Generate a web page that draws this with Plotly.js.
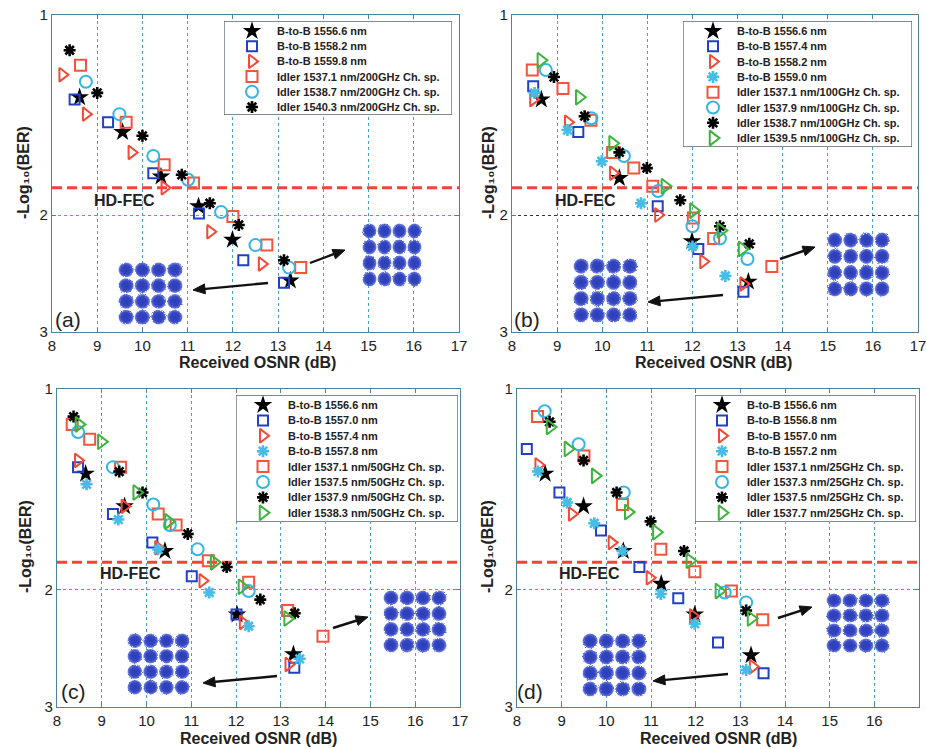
<!DOCTYPE html>
<html>
<head>
<meta charset="utf-8">
<script src="https://cdn.plot.ly/plotly-3.0.1.min.js"></script>
<style>
  html, body { margin: 0; padding: 0; background: #fff; }
  #chart { width: 927px; height: 749px; }
</style>
</head>
<body>
<div id="chart"></div>
<script>
// ---------------- measured BER curves: -log10(BER) vs received OSNR (dB) ----------------
const xTicks = [8, 9, 10, 11, 12, 13, 14, 15, 16, 17];
const yTicks = [1, 2, 3];
const hdFecLevel = 1.82;

// (a) 200 GHz channel spacing
const aNames = ['B-to-B 1556.6 nm', 'B-to-B 1558.2 nm', 'B-to-B 1559.8 nm',
  'Idler 1537.1 nm/200GHz Ch. sp.', 'Idler 1538.7 nm/200GHz Ch. sp.', 'Idler 1540.3 nm/200GHz Ch. sp.'];
const aStarX = [8.61, 9.56, 10.41, 11.24, 11.99, 13.27];
const aStarY = [1.33, 1.50, 1.75, 1.94, 2.18, 2.51];
const aBlueSqX = [8.50, 9.24, 10.24, 11.25, 12.23, 13.13];
const aBlueSqY = [1.34, 1.45, 1.73, 1.99, 2.34, 2.53];
const aRedTriX = [8.23, 8.75, 9.76, 10.49, 11.50, 12.64];
const aRedTriY = [1.23, 1.41, 1.61, 1.82, 2.12, 2.37];
const aRedSqX = [8.63, 9.64, 10.48, 11.13, 12.00, 12.75, 13.50];
const aRedSqY = [1.19, 1.45, 1.68, 1.79, 2.01, 2.22, 2.40];
const aCircX = [8.75, 9.49, 10.24, 11.01, 11.74, 12.50, 13.24];
const aCircY = [1.26, 1.41, 1.63, 1.77, 1.98, 2.22, 2.40];
const aAstX = [8.39, 9.00, 10.00, 10.87, 11.49, 12.13, 13.13];
const aAstY = [1.13, 1.31, 1.52, 1.74, 1.92, 2.07, 2.34];

// (b) 100 GHz channel spacing
const bNames = ['B-to-B 1556.6 nm', 'B-to-B 1557.4 nm', 'B-to-B 1558.2 nm', 'B-to-B 1559.0 nm',
  'Idler 1537.1 nm/100GHz Ch. sp.', 'Idler 1537.9 nm/100GHz Ch. sp.',
  'Idler 1538.7 nm/100GHz Ch. sp.', 'Idler 1539.5 nm/100GHz Ch. sp.'];
const bStarX = [8.65, 10.38, 11.99, 13.24];
const bStarY = [1.34, 1.76, 2.19, 2.52];
const bBlueSqX = [8.47, 9.47, 11.23, 12.13, 13.13];
const bBlueSqY = [1.28, 1.50, 1.94, 2.25, 2.61];
const bRedTriX = [8.47, 9.24, 10.24, 11.24, 12.24, 13.13];
const bRedTriY = [1.34, 1.45, 1.73, 2.00, 2.35, 2.54];
const bCyanAstX = [8.50, 9.23, 9.99, 10.86, 12.00, 12.73];
const bCyanAstY = [1.31, 1.49, 1.66, 1.92, 2.23, 2.47];
const bRedSqX = [8.45, 9.13, 9.75, 10.23, 10.70, 11.12, 12.02, 12.47, 13.76];
const bRedSqY = [1.21, 1.29, 1.44, 1.61, 1.70, 1.81, 2.02, 2.17, 2.39];
const bCircX = [8.75, 9.76, 10.48, 11.24, 12.00, 12.61, 13.22];
const bCircY = [1.21, 1.43, 1.63, 1.84, 2.08, 2.17, 2.33];
const bAstX = [8.93, 9.61, 10.38, 10.99, 11.73, 12.61, 13.26];
const bAstY = [1.24, 1.42, 1.61, 1.70, 1.90, 2.08, 2.21];
const bGreenTriX = [8.64, 9.49, 10.23, 11.39, 12.02, 12.63, 13.10];
const bGreenTriY = [1.17, 1.33, 1.56, 1.81, 1.97, 2.11, 2.25];

// (c) 50 GHz channel spacing
const cNames = ['B-to-B 1556.6 nm', 'B-to-B 1557.0 nm', 'B-to-B 1557.4 nm', 'B-to-B 1557.8 nm',
  'Idler 1537.1 nm/50GHz Ch. sp.', 'Idler 1537.5 nm/50GHz Ch. sp.',
  'Idler 1537.9 nm/50GHz Ch. sp.', 'Idler 1538.3 nm/50GHz Ch. sp.'];
const cStarX = [8.64, 9.51, 10.41, 12.02, 13.28];
const cStarY = [1.34, 1.50, 1.75, 2.18, 2.50];
const cBlueSqX = [8.47, 9.25, 10.13, 11.01, 12.01, 13.30];
const cBlueSqY = [1.31, 1.54, 1.70, 1.91, 2.18, 2.62];
const cRedTriX = [8.47, 9.51, 10.26, 11.25, 12.15, 13.17];
const cRedTriY = [1.28, 1.50, 1.73, 1.94, 2.24, 2.59];
const cCyanAstX = [8.66, 9.37, 10.26, 11.40, 12.28, 13.42];
const cCyanAstY = [1.39, 1.57, 1.74, 2.02, 2.27, 2.54];
const cRedSqX = [8.34, 8.73, 9.42, 10.26, 10.66, 11.38, 12.28, 13.15, 13.94];
const cRedSqY = [1.13, 1.19, 1.31, 1.54, 1.60, 1.81, 1.95, 2.15, 2.35];
const cCircX = [8.47, 9.25, 10.15, 10.52, 11.14, 12.28];
const cCircY = [1.16, 1.31, 1.49, 1.60, 1.74, 2.01];
const cAstX = [8.37, 9.39, 9.91, 10.92, 11.79, 12.54, 13.31];
const cAstY = [1.10, 1.33, 1.43, 1.65, 1.85, 2.07, 2.17];
const cGreenTriX = [8.49, 8.99, 9.78, 10.49, 11.51, 12.13, 13.15];
const cGreenTriY = [1.13, 1.20, 1.43, 1.58, 1.82, 1.98, 2.21];

// (d) 25 GHz channel spacing
const dNames = ['B-to-B 1556.6 nm', 'B-to-B 1556.8 nm', 'B-to-B 1557.0 nm', 'B-to-B 1557.2 nm',
  'Idler 1537.1 nm/25GHz Ch. sp.', 'Idler 1537.3 nm/25GHz Ch. sp.',
  'Idler 1537.5 nm/25GHz Ch. sp.', 'Idler 1537.7 nm/25GHz Ch. sp.'];
const dStarX = [8.63, 9.49, 10.38, 11.23, 11.98, 13.24];
const dStarY = [1.34, 1.50, 1.75, 1.96, 2.18, 2.51];
const dBlueSqX = [8.22, 8.95, 9.88, 10.74, 11.61, 12.50, 13.52];
const dBlueSqY = [1.23, 1.43, 1.63, 1.85, 2.06, 2.40, 2.67];
const dRedTriX = [8.48, 9.23, 10.12, 10.97, 11.94, 13.28];
const dRedTriY = [1.30, 1.54, 1.70, 1.92, 2.19, 2.61];
const dCyanAstX = [8.47, 9.12, 9.73, 10.36, 11.22, 11.98, 13.13];
const dCyanAstY = [1.33, 1.48, 1.59, 1.75, 2.03, 2.25, 2.64];
const dRedSqX = [8.46, 9.50, 10.36, 11.22, 11.98, 12.80, 13.50];
const dRedSqY = [1.10, 1.26, 1.49, 1.74, 1.88, 2.01, 2.22];
const dCircX = [8.62, 9.38, 10.39, 12.65, 13.13];
const dCircY = [1.08, 1.21, 1.43, 2.02, 2.09];
const dAstX = [8.73, 9.49, 10.23, 10.99, 11.74, 13.13];
const dAstY = [1.12, 1.28, 1.43, 1.58, 1.75, 2.15];
const dGreenTriX = [8.74, 9.14, 9.75, 10.49, 11.12, 11.87, 12.52, 13.24];
const dGreenTriY = [1.14, 1.23, 1.35, 1.53, 1.64, 1.81, 2.01, 2.21];

// ---------------- marker styles ----------------
const W = 927, H = 749;
const FONT = 'Liberation Sans, Arial, Helvetica, sans-serif';
const styles = {
  star:     { symbol: 'star', color: '#000000', size: 14, lw: 0 },
  blueSq:   { symbol: 'square-open', color: '#2140c4', size: 10, lw: 2 },
  redTri:   { symbol: 'triangle-right-open', color: '#f24a36', size: 12, lw: 2 },
  cyanAst:  { symbol: 'asterisk-open', color: '#45bde6', size: 10, lw: 2.6 },
  redSq:    { symbol: 'square-open', color: '#f2553c', size: 11, lw: 2 },
  circ:     { symbol: 'circle-open', color: '#34b6e4', size: 12, lw: 2 },
  ast:      { symbol: 'asterisk-open', color: '#000000', size: 10, lw: 2.6 },
  greenTri: { symbol: 'triangle-right-open', color: '#3cb43c', size: 13, lw: 2 }
};

// series order per panel (legend order)
const panelSeries = [
  { names: aNames, keys: ['star', 'blueSq', 'redTri', 'redSq', 'circ', 'ast'],
    xs: [aStarX, aBlueSqX, aRedTriX, aRedSqX, aCircX, aAstX],
    ys: [aStarY, aBlueSqY, aRedTriY, aRedSqY, aCircY, aAstY] },
  { names: bNames, keys: ['star', 'blueSq', 'redTri', 'cyanAst', 'redSq', 'circ', 'ast', 'greenTri'],
    xs: [bStarX, bBlueSqX, bRedTriX, bCyanAstX, bRedSqX, bCircX, bAstX, bGreenTriX],
    ys: [bStarY, bBlueSqY, bRedTriY, bCyanAstY, bRedSqY, bCircY, bAstY, bGreenTriY] },
  { names: cNames, keys: ['star', 'blueSq', 'redTri', 'cyanAst', 'redSq', 'circ', 'ast', 'greenTri'],
    xs: [cStarX, cBlueSqX, cRedTriX, cCyanAstX, cRedSqX, cCircX, cAstX, cGreenTriX],
    ys: [cStarY, cBlueSqY, cRedTriY, cCyanAstY, cRedSqY, cCircY, cAstY, cGreenTriY] },
  { names: dNames, keys: ['star', 'blueSq', 'redTri', 'cyanAst', 'redSq', 'circ', 'ast', 'greenTri'],
    xs: [dStarX, dBlueSqX, dRedTriX, dCyanAstX, dRedSqX, dCircX, dAstX, dGreenTriX],
    ys: [dStarY, dBlueSqY, dRedTriY, dCyanAstY, dRedSqY, dCircY, dAstY, dGreenTriY] }
];

// ---------------- page geometry (pixels) ----------------
const panelBoxes = [
  { l: 52, r: 459, t: 15, b: 332 },
  { l: 512, r: 918, t: 15, b: 332 },
  { l: 57, r: 460, t: 389, b: 707 },
  { l: 517, r: 919, t: 389, b: 707 }
];
const yGridColors = ['#4aa0c8', '#333333', '#4aa0c8', '#4aa0c8'];
const legendBoxes = [
  { l: 224, r: 452, t: 21, b: 115, mark: 252, text: 275, row0: 31, step: 15.2 },
  { l: 683, r: 912, t: 21, b: 147, mark: 713, text: 735, row0: 31, step: 15.3 },
  { l: 236, r: 458, t: 395, b: 522, mark: 263, text: 286, row0: 405, step: 15.4 },
  { l: 695, r: 916, t: 395, b: 522, mark: 722, text: 745, row0: 405, step: 15.4 }
];
const panelTags = ['(a)', '(b)', '(c)', '(d)'];
const tagPos = [[68, 319], [527, 319], [73, 691], [530, 691]];
const fecLabelPos = [[124, 200], [585, 200], [130, 573], [589, 573]];
const xTitlePos = [[257, 362], [713, 362], [258, 738], [718, 738]];
const yTitlePos = [[23, 173], [488, 173], [25, 547], [487, 547]];
const yTitleText = '-Log\u2081\u2080(BER)';
// 16-QAM constellation insets: [left, top, width, height]
const insets = [
  [118, 262, 65, 63], [362, 223, 60, 64],
  [573, 258, 65, 65], [827, 232, 63, 65],
  [127, 633, 63, 62], [383, 590, 64, 63],
  [582, 633, 65, 64], [826, 593, 64, 60]
];
// pointer arrows: tail [x, y] -> head [x, y]
const arrows = [
  [268, 283, 193, 290], [310, 263, 345, 250],
  [723, 295, 648, 302], [780, 259, 815, 247],
  [277, 676, 203, 683], [333, 628, 368, 617],
  [728, 674, 653, 681], [778, 618, 812, 607]
];

const px = v => v / W;
const py = v => 1 - v / H;

const FRAME = '#4f8294';
const GRID = '#4aa0c8';

const layout = {
  width: W, height: H,
  margin: { l: 0, r: 0, t: 0, b: 0 },
  paper_bgcolor: '#ffffff', plot_bgcolor: '#ffffff',
  showlegend: false,
  font: { family: FONT, color: '#222' },
  annotations: [], shapes: [], images: []
};
const traces = [];

function sfx(i) { return i === 0 ? '' : String(i + 1); }

panelBoxes.forEach((box, p) => {
  const s = sfx(p);
  layout['xaxis' + s] = {
    domain: [px(box.l), px(box.r)], anchor: 'y' + s,
    range: [xTicks[0], xTicks[xTicks.length - 1]],
    tickmode: 'array', tickvals: xTicks, ticktext: xTicks.map(String),
    tickfont: { size: 15, family: FONT, color: '#222' },
    showgrid: true, gridcolor: GRID, griddash: 'dot', gridwidth: 1,
    zeroline: false, showline: true, linecolor: FRAME, linewidth: 1.2, mirror: 'ticks',
    ticks: 'inside', ticklen: 4, tickcolor: FRAME, fixedrange: true
  };
  layout['yaxis' + s] = {
    domain: [py(box.b), py(box.t)], anchor: 'x' + s,
    type: 'log', range: [Math.log10(3), 0],
    tickmode: 'array', tickvals: yTicks, ticktext: yTicks.map(String),
    tickfont: { size: 15, family: FONT, color: '#222' },
    showgrid: true, gridcolor: yGridColors[p], griddash: 'dot', gridwidth: 1,
    zeroline: false, showline: true, linecolor: FRAME, linewidth: 1.2, mirror: 'ticks',
    ticks: 'inside', ticklen: 4, tickcolor: FRAME, fixedrange: true
  };

  // HD-FEC threshold
  traces.push({
    type: 'scatter', mode: 'lines', xaxis: 'x' + s, yaxis: 'y' + s,
    x: [xTicks[0], xTicks[xTicks.length - 1]], y: [hdFecLevel, hdFecLevel],
    line: { color: '#f0443a', width: 3, dash: '10px,5px' }, hoverinfo: 'skip'
  });

  // measured points
  const ser = panelSeries[p];
  ser.keys.forEach((k, i) => {
    const st = styles[k];
    traces.push({
      type: 'scatter', mode: 'markers', name: ser.names[i],
      xaxis: 'x' + s, yaxis: 'y' + s, x: ser.xs[i], y: ser.ys[i],
      marker: { symbol: st.symbol, color: st.color, size: st.size,
        line: { color: st.color, width: st.lw } },
      hoverinfo: 'x+y+name'
    });
  });

  // legend drawn in its own small pixel-scaled subplot
  const lg = legendBoxes[p];
  const ls = String(p + 5);
  layout['xaxis' + ls] = { domain: [px(lg.l), px(lg.r)], range: [lg.l, lg.r], anchor: 'y' + ls,
    visible: false, fixedrange: true };
  layout['yaxis' + ls] = { domain: [py(lg.b), py(lg.t)], range: [lg.b, lg.t], anchor: 'x' + ls,
    visible: false, fixedrange: true };
  layout.shapes.push({ type: 'rect', xref: 'x' + ls, yref: 'y' + ls, layer: 'below',
    x0: lg.l, x1: lg.r, y0: lg.t, y1: lg.b,
    fillcolor: '#ffffff', line: { color: '#56666c', width: 1.3 } });
  ser.keys.forEach((k, i) => {
    const st = styles[k];
    const rowY = lg.row0 + i * lg.step;
    traces.push({
      type: 'scatter', mode: 'markers', xaxis: 'x' + ls, yaxis: 'y' + ls,
      x: [lg.mark], y: [rowY], hoverinfo: 'skip',
      marker: { symbol: st.symbol, color: st.color, size: st.size,
        line: { color: st.color, width: st.lw } }
    });
    layout.annotations.push({ xref: 'x' + ls, yref: 'y' + ls, x: lg.text, y: rowY,
      xanchor: 'left', yanchor: 'middle', showarrow: false, text: ser.names[i],
      font: { family: FONT, size: 11, color: '#222', weight: 'bold' } });
  });

  // axis titles
  layout.annotations.push({ xref: 'paper', yref: 'paper', x: px(xTitlePos[p][0]), y: py(xTitlePos[p][1]),
    xanchor: 'center', yanchor: 'middle', showarrow: false, text: 'Received OSNR (dB)',
    font: { family: FONT, size: 16, color: '#222', weight: 'bold' } });
  layout.annotations.push({ xref: 'paper', yref: 'paper', x: px(yTitlePos[p][0]), y: py(yTitlePos[p][1]),
    xanchor: 'center', yanchor: 'middle', showarrow: false, textangle: -90,
    text: yTitleText,
    font: { family: FONT, size: 16, color: '#222', weight: 'bold' } });
  // HD-FEC label and panel tag
  layout.annotations.push({ xref: 'paper', yref: 'paper', x: px(fecLabelPos[p][0]), y: py(fecLabelPos[p][1]),
    xanchor: 'center', yanchor: 'middle', showarrow: false, text: 'HD-FEC',
    font: { family: FONT, size: 16, color: '#222', weight: 'bold' } });
  layout.annotations.push({ xref: 'paper', yref: 'paper', x: px(tagPos[p][0]), y: py(tagPos[p][1]),
    xanchor: 'center', yanchor: 'middle', showarrow: false, text: panelTags[p],
    font: { family: FONT, size: 21, color: '#222' } });
});

// 16-QAM constellation picture with grainy cluster edges
function qamImage() {
  let svg = "<svg xmlns='http://www.w3.org/2000/svg' viewBox='0 0 100 100'>" +
    "<defs><radialGradient id='g'>" +
    "<stop offset='0' stop-color='#2c3cb6'/>" +
    "<stop offset='0.6' stop-color='#3446c2'/>" +
    "<stop offset='0.85' stop-color='#4a5cd0' stop-opacity='0.85'/>" +
    "<stop offset='1' stop-color='#7c88e0' stop-opacity='0'/>" +
    "</radialGradient>" +
    "<filter id='n' x='-10%' y='-10%' width='120%' height='120%'>" +
    "<feTurbulence type='fractalNoise' baseFrequency='1.6' numOctaves='2' seed='7' result='t'/>" +
    "<feDisplacementMap in='SourceGraphic' in2='t' scale='4' xChannelSelector='R' yChannelSelector='G'/>" +
    "</filter></defs><g filter='url(#n)'>";
  for (let i = 0; i < 4; i++) {
    for (let j = 0; j < 4; j++) {
      svg += "<circle cx='" + (12.5 + 25 * i) + "' cy='" + (12.5 + 25 * j) + "' r='12.5' fill='url(#g)'/>";
    }
  }
  svg += '</g></svg>';
  return 'data:image/svg+xml;charset=utf-8,' + encodeURIComponent(svg);
}
const qamSrc = qamImage();
insets.forEach(r => {
  layout.images.push({ source: qamSrc, xref: 'paper', yref: 'paper',
    x: px(r[0]), y: py(r[1]), sizex: r[2] / W, sizey: r[3] / H,
    xanchor: 'left', yanchor: 'top', sizing: 'stretch', layer: 'above' });
});

// pointer arrows as a shaft plus a filled head
arrows.forEach(a => {
  const [x0, y0, x1, y1] = a;
  const len = Math.hypot(x1 - x0, y1 - y0);
  const ux = (x1 - x0) / len, uy = (y1 - y0) / len;
  const headLen = 12, halfW = 5;
  const bx = x1 - ux * headLen, by = y1 - uy * headLen;
  layout.shapes.push({ type: 'line', xref: 'paper', yref: 'paper', layer: 'above',
    x0: px(x0), y0: py(y0), x1: px(bx + ux * 2), y1: py(by + uy * 2),
    line: { color: '#111', width: 2.4 } });
  const p1 = [bx - uy * halfW, by + ux * halfW], p2 = [bx + uy * halfW, by - ux * halfW];
  layout.shapes.push({ type: 'path', xref: 'paper', yref: 'paper', layer: 'above',
    path: 'M ' + px(x1) + ',' + py(y1) + ' L ' + px(p1[0]) + ',' + py(p1[1]) +
      ' L ' + px(p2[0]) + ',' + py(p2[1]) + ' Z',
    fillcolor: '#111', line: { color: '#111', width: 1 } });
});

Plotly.newPlot('chart', traces, layout, { displayModeBar: false, staticPlot: true });
</script>
</body>
</html>
